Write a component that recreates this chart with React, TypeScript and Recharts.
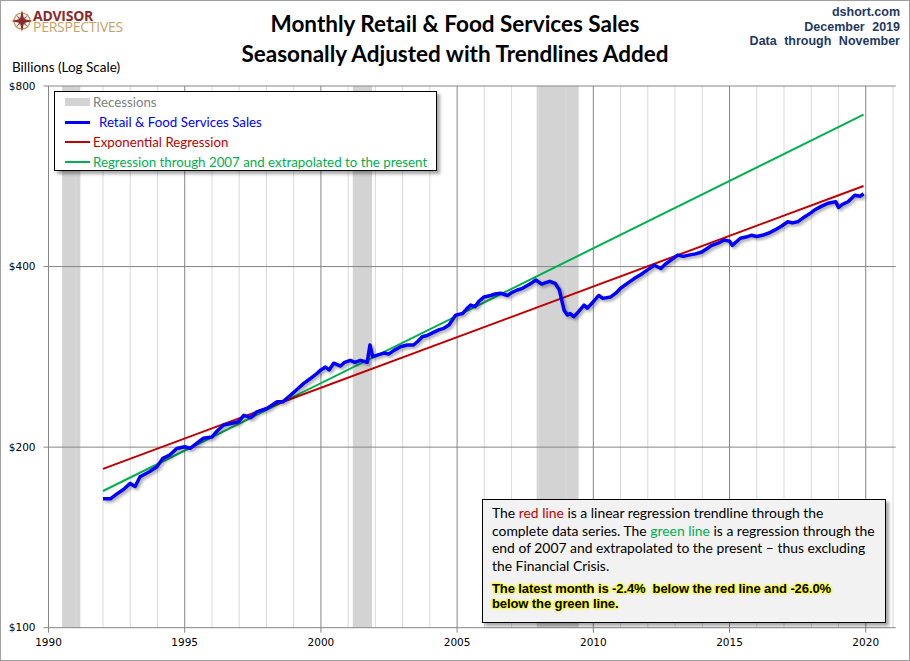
import { LineChart, Line, XAxis, YAxis, ReferenceArea, ReferenceLine } from 'recharts'

// Retail & food services sales, billions (log scale)
const saleDates = [
  1992.0, 1992.27, 1992.5, 1992.75, 1993.0, 1993.18, 1993.36, 1993.7, 1993.98, 1994.2,
  1994.45, 1994.71, 1995.0, 1995.2, 1995.45, 1995.69, 1996.0, 1996.2, 1996.43, 1996.7,
  1996.98, 1997.17, 1997.42, 1997.65, 1998.02, 1998.2, 1998.39, 1998.6, 1998.88, 1999.1,
  1999.37, 1999.6, 1999.86, 2000.0, 2000.17, 2000.3, 2000.47, 2000.72, 2000.87, 2001.08,
  2001.25, 2001.45, 2001.7, 2001.8, 2001.9, 2002.1, 2002.31, 2002.5, 2002.68, 2002.92,
  2003.17, 2003.4, 2003.55, 2003.72, 2003.9, 2004.15, 2004.35, 2004.51, 2004.7, 2004.95,
  2005.2, 2005.35, 2005.5, 2005.66, 2005.8, 2005.99, 2006.23, 2006.4, 2006.6, 2006.85,
  2007.0, 2007.21, 2007.4, 2007.58, 2007.75, 2007.89, 2008.1, 2008.25, 2008.4, 2008.6,
  2008.75, 2008.85, 2008.93, 2009.05, 2009.15, 2009.28, 2009.45, 2009.66, 2009.78, 2010.0,
  2010.2, 2010.35, 2010.64, 2010.85, 2011.0, 2011.25, 2011.5, 2011.75, 2011.99, 2012.24,
  2012.48, 2012.65, 2012.85, 2013.1, 2013.3, 2013.5, 2013.75, 2013.98, 2014.15, 2014.35,
  2014.6, 2014.8, 2015.0, 2015.1, 2015.4, 2015.6, 2015.8, 2016.0, 2016.2, 2016.45,
  2016.65, 2016.9, 2017.14, 2017.3, 2017.5, 2017.75, 2018.0, 2018.12, 2018.4, 2018.61,
  2018.9, 2019.0, 2019.15, 2019.35, 2019.6, 2019.8, 2019.92,
]
const saleValues = [
  164, 164, 167, 170, 174, 172, 178.5, 182, 185.5, 191.6,
  194, 199, 200.3, 199, 203, 207, 208, 213, 217.7, 219,
  220.5, 226, 224, 229, 232, 235, 238, 238, 244, 249,
  255.5, 260, 265.5, 269, 272, 269, 276, 273, 277, 279,
  277, 279, 277, 296, 283, 285, 287, 286, 290, 294,
  296, 296, 300, 305.5, 307, 311, 314, 315.6, 319.6, 332,
  334, 340, 345, 343, 350, 356, 358, 360, 361, 358,
  362, 365.6, 368, 372, 376, 380, 374, 376, 378, 375,
  366, 350, 338, 332, 334, 330, 336, 345, 341, 349.5,
  358, 354, 356, 362, 368, 375, 382, 388, 395, 402,
  397, 404, 410, 418, 416, 418, 420, 423, 428, 434,
  438, 443, 441, 434, 446, 448, 451, 449, 451, 455,
  460, 467, 475, 473, 475, 484, 492, 497, 505, 510,
  513, 502, 508, 513, 526, 524, 529,
]

// trendlines: end points of the straight (log) lines
const redDates = [1992.0, 2019.92]
const redValues = [184, 545]
const greenDates = [1992.0, 2019.92]
const greenValues = [169, 717]

const recessions = [
  [1990.5, 1991.17],
  [2001.17, 2001.88],
  [2007.92, 2009.46],
]
const yearTicks = [1990, 1995, 2000, 2005, 2010, 2015, 2020]
const priceTicks = [100, 200, 400, 800]
const gridYears = Array.from({ length: 32 }, (_, i) => 1990 + i)

const sales = saleDates.map((x, i) => ({ x, v: saleValues[i] }))
const redLine = redDates.map((x, i) => ({ x, v: redValues[i] }))
const greenLine = greenDates.map((x, i) => ({ x, v: greenValues[i] }))

const BLUE = '#0000FF'
const RED = '#C00000'
const GREEN = '#00B050'
const GRID = '#868686'
const GRID_MINOR = '#D9D9D9'

const tickStyle = { fill: '#000', fontSize: 10.5, fontFamily: 'DejaVu Sans' }
const calibri = 'Lato, "Open Sans", sans-serif'
const glow = '0 0 2px #FFFF00, 0 0 2px #FFFF00, 0 0 3px #FFFF00, 0 0 3px #FFFF00'

function Compass() {
  return (
    <svg width={22} height={22} viewBox="0 0 22 22" style={{ position: 'absolute', left: 11, top: 10 }}>
      <circle cx={11} cy={11} r={8} fill="none" stroke="#C8A164" strokeWidth={1.5} />
      <polygon points="11,0 13,9 22,11 13,13 11,22 9,13 0,11 9,9" fill="#8B2A2A" />
      <polygon points="5,5 12,10 17,17 10,12" fill="#8B2A2A" opacity={0.8} />
      <polygon points="17,5 12,12 5,17 10,10" fill="#8B2A2A" opacity={0.8} />
    </svg>
  )
}

function LegendRow({ top, swatch, color, label, indent = 0 }: {
  top: number; swatch: 'box' | 'line'; color: string; label: string; indent?: number
}) {
  return (
    <div style={{ position: 'absolute', left: 0, top, height: 20, width: 380 }}>
      {swatch === 'box' ? (
        <div style={{ position: 'absolute', left: 10, top: 6, width: 25, height: 8, background: '#D3D3D3' }} />
      ) : (
        <div style={{
          position: 'absolute', left: 10, top: color === BLUE ? 8.5 : 9, width: 25,
          height: color === BLUE ? 3 : 2, background: color,
        }} />
      )}
      <div style={{
        position: 'absolute', left: 38 + indent, top: 0, lineHeight: '20px',
        fontSize: 13.3, color, fontFamily: calibri, whiteSpace: 'nowrap',
      }}>
        {label}
      </div>
    </div>
  )
}

export default function App() {
  return (
    <div style={{ position: 'relative', width: 910, height: 661, background: '#fff', overflow: 'hidden' }}>
      <style>{`body{margin:0} .sales-line path{filter:drop-shadow(2px 2px 1.5px rgba(0,0,0,0.35))}`}</style>

      <LineChart
        width={910}
        height={661}
        margin={{ top: 86, right: 14.3, left: 8.5, bottom: 13.3 }}
        style={{ position: 'absolute', left: 0, top: 0 }}
      >
        <XAxis
          type="number"
          dataKey="x"
          domain={[1990, 2021.1]}
          allowDataOverflow
          ticks={yearTicks}
          tick={tickStyle}
          tickSize={5}
          tickMargin={6}
          height={20}
          axisLine={{ stroke: GRID }}
          tickLine={{ stroke: GRID }}
        />
        <YAxis
          dataKey="v"
          scale="log"
          domain={[100, 800]}
          allowDataOverflow
          ticks={priceTicks}
          tickFormatter={(v) => `$${v}`}
          tick={tickStyle}
          tickSize={5}
          tickMargin={8}
          width={40}
          axisLine={{ stroke: GRID }}
          tickLine={{ stroke: GRID }}
        />

        {recessions.map(([a, b]) => (
          <ReferenceArea key={a} x1={a} x2={b} fill="#D3D3D3" fillOpacity={1} stroke="none" ifOverflow="hidden" />
        ))}
        {gridYears.slice(1).map((yr) => (
          <ReferenceLine key={yr} x={yr} stroke={yr % 5 === 0 ? GRID : GRID_MINOR} strokeWidth={1} />
        ))}
        {priceTicks.slice(1).map((p) => (
          <ReferenceLine key={p} y={p} stroke={GRID} strokeWidth={1} />
        ))}

        <Line
          data={greenLine}
          dataKey="v"
          type="linear"
          stroke={GREEN}
          strokeWidth={2}
          dot={false}
          isAnimationActive={false}
        />
        <Line
          data={redLine}
          dataKey="v"
          type="linear"
          stroke={RED}
          strokeWidth={2}
          dot={false}
          isAnimationActive={false}
        />
        <Line
          className="sales-line"
          data={sales}
          dataKey="v"
          type="linear"
          stroke={BLUE}
          strokeWidth={3.5}
          strokeLinejoin="round"
          dot={false}
          isAnimationActive={false}
        />
      </LineChart>

      {/* logo */}
      <Compass />
      <div style={{
        position: 'absolute', left: 33, top: 10, fontFamily: '"Open Sans", sans-serif',
        fontSize: 14, lineHeight: '11px', letterSpacing: -0.25,
      }}>
        <span style={{ color: '#8B2A2A', fontWeight: 700 }}>ADVISOR</span><br />
        <span style={{ color: '#C8A164', fontWeight: 400 }}>PERSPECTIVES</span>
      </div>

      {/* title */}
      <div style={{
        position: 'absolute', left: 0, width: 910, top: 9, textAlign: 'center',
        fontFamily: calibri, fontWeight: 700, fontSize: 22.5, lineHeight: '30px', color: '#000',
      }}>
        Monthly Retail &amp; Food Services Sales<br />Seasonally Adjusted with Trendlines Added
      </div>

      {/* source */}
      <div style={{
        position: 'absolute', right: 10, top: 5, textAlign: 'right', fontWeight: 700, wordSpacing: 4,
        fontFamily: '"Liberation Sans", Arial, sans-serif', fontSize: 12.5, lineHeight: '14.7px', color: '#1F3864',
      }}>
        dshort.com<br />December 2019<br />Data through November
      </div>

      <div style={{
        position: 'absolute', left: 12, top: 58, fontFamily: calibri, fontSize: 13.5, lineHeight: '18px', color: '#000',
      }}>Billions (Log Scale)</div>

      {/* legend */}
      <div style={{
        position: 'absolute', left: 54, top: 91, width: 381, height: 78, background: '#fff',
        border: '1px solid #000', boxShadow: '3px 3px 3px rgba(0,0,0,0.35)',
      }}>
        <LegendRow top={0} swatch="box" color="#808080" label="Recessions" />
        <LegendRow top={20} swatch="line" color={BLUE} label="Retail & Food Services Sales" indent={6} />
        <LegendRow top={40} swatch="line" color={RED} label="Exponential Regression" />
        <LegendRow top={60} swatch="line" color={GREEN} label="Regression through 2007 and extrapolated to the present" />
      </div>

      {/* note */}
      <div style={{
        position: 'absolute', left: 482, top: 499, width: 402, height: 122, background: '#F2F2F2',
        border: '1px solid #000', boxShadow: '3px 3px 3px rgba(0,0,0,0.35)',
      }}>
        <div style={{
          position: 'absolute', left: 9, top: 4, width: 392, fontFamily: calibri, fontSize: 13.9,
          lineHeight: '17.7px', color: '#000', whiteSpace: 'nowrap',
        }}>
          The <span style={{ color: RED }}>red line</span> is a linear regression trendline through the<br />
          complete data series. The <span style={{ color: GREEN }}>green line</span> is a regression through the<br />
          end of 2007 and extrapolated to the present – thus excluding<br />
          the Financial Crisis.
        </div>
        <div style={{
          position: 'absolute', left: 9, top: 81, width: 392, fontFamily: '"Liberation Sans", Arial, sans-serif',
          fontWeight: 700, fontSize: 13, lineHeight: '15px', letterSpacing: -0.1, color: '#000', textShadow: glow,
          whiteSpace: 'nowrap',
        }}>
          The latest month is -2.4%&nbsp; below the red line and -26.0%<br />
          below the green line.
        </div>
      </div>

      <div style={{
        position: 'absolute', left: 0, top: 0, width: 910, height: 661, boxSizing: 'border-box',
        border: '1px solid #A0A0A0', pointerEvents: 'none',
      }} />
    </div>
  )
}
